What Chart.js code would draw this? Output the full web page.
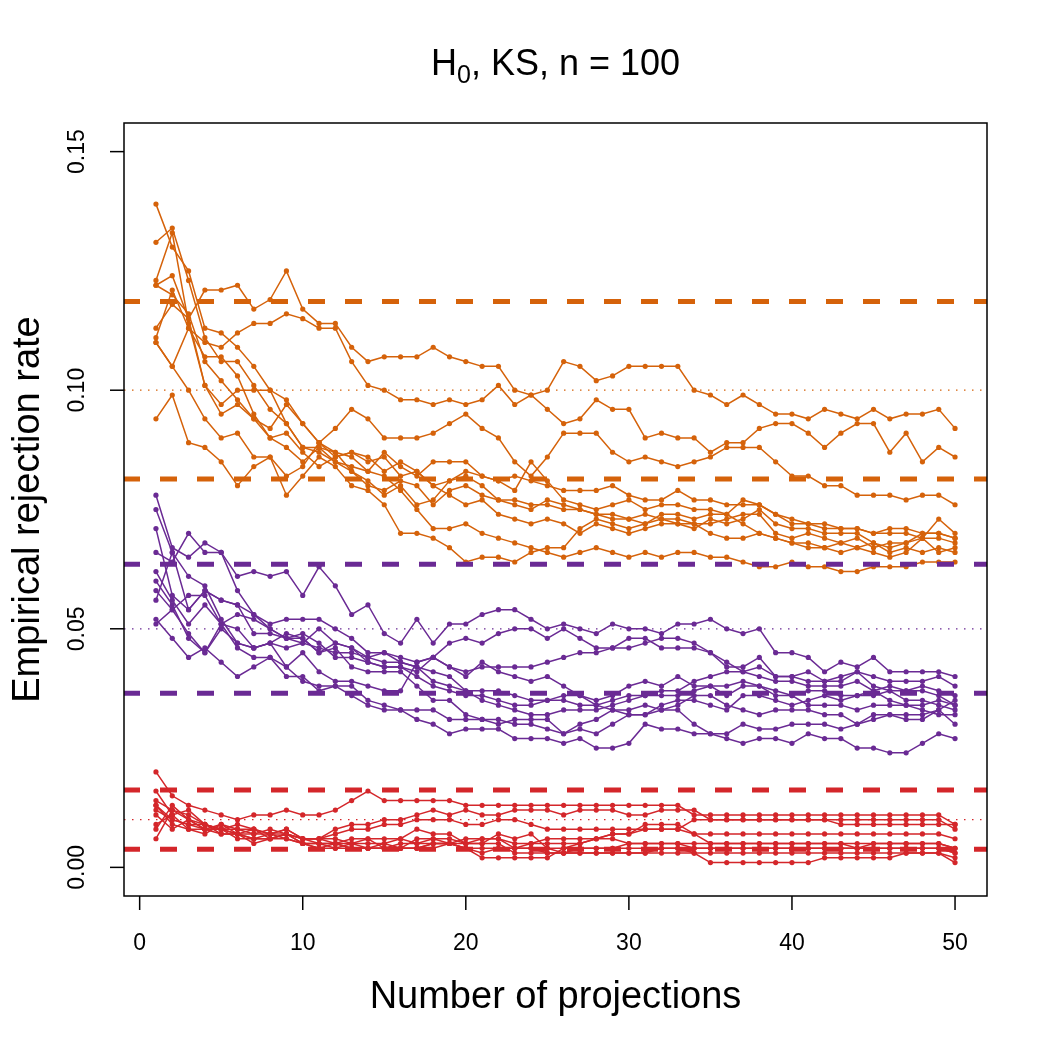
<!DOCTYPE html>
<html>
<head>
	<meta charset="UTF-8">
	<title>H0, KS, n = 100</title>
	<style>
		body { margin: 0; background: #fff; }
		canvas { display: block; }
	</style>
	<script src="https://cdn.jsdelivr.net/npm/chart.js@4/dist/chart.umd.min.js"></script>
</head>
<body>
	<canvas id="canvas" width="1050" height="1050" style="width:1050px;height:1050px;"></canvas>
	<script>
		// number of projections
		var projections = [1,2,3,4,5,6,7,8,9,10,11,12,13,14,15,16,17,18,19,20,21,22,23,24,25,26,27,28,29,30,31,32,33,34,35,36,37,38,39,40,41,42,43,44,45,46,47,48,49,50];

		var xTicks = [0, 10, 20, 30, 40, 50];
		var yTicks = [0, 0.05, 0.10, 0.15];
		var yTickLabels = ['0.00', '0.05', '0.10', '0.15'];

		// nominal levels (dotted) and their bands (dashed)
		var levels = [0.10, 0.05, 0.01];
		var bandsLow = [0.0814, 0.0365, 0.0038];
		var bandsHigh = [0.1186, 0.0635, 0.0162];

		// alpha = 0.10
		var orange = [
			[0.113,0.118,0.115,0.121,0.121,0.122,0.117,0.119,0.125,0.117, 0.114,0.114,0.109,0.106,0.107,0.107,0.107,0.109,0.107,0.106, 0.105,0.105,0.100,0.099,0.100,0.106,0.105,0.102,0.103,0.105, 0.105,0.105,0.105,0.100,0.099,0.097,0.099,0.097,0.095,0.095, 0.094,0.096,0.095,0.094,0.096,0.094,0.095,0.095,0.096,0.092],
			[0.110,0.105,0.113,0.110,0.109,0.112,0.114,0.114,0.116,0.115, 0.113,0.113,0.106,0.101,0.100,0.098,0.098,0.097,0.098,0.097, 0.098,0.101,0.097,0.099,0.096,0.093,0.094,0.098,0.096,0.096, 0.090,0.091,0.090,0.090,0.087,0.089,0.089,0.092,0.093,0.093, 0.091,0.088,0.091,0.093,0.093,0.087,0.091,0.085,0.088,0.086],
			[0.122,0.124,0.115,0.101,0.097,0.100,0.100,0.100,0.098,0.093, 0.089,0.092,0.096,0.094,0.090,0.090,0.090,0.091,0.093,0.095, 0.092,0.090,0.085,0.082,0.086,0.091,0.091,0.091,0.087,0.085, 0.086,0.085,0.084,0.085,0.086,0.088,0.088,0.088,0.085,0.082, 0.082,0.080,0.080,0.078,0.078,0.078,0.077,0.078,0.078,0.076],
			[0.139,0.130,0.125,0.113,0.112,0.109,0.105,0.100,0.093,0.088, 0.087,0.085,0.084,0.083,0.087,0.084,0.082,0.085,0.085,0.085, 0.082,0.081,0.082,0.081,0.080,0.079,0.079,0.079,0.080,0.078, 0.077,0.077,0.079,0.077,0.077,0.076,0.076,0.076,0.074,0.072, 0.072,0.071,0.071,0.071,0.070,0.070,0.070,0.069,0.069,0.068],
			[0.131,0.134,0.123,0.111,0.106,0.106,0.101,0.096,0.093,0.088, 0.088,0.085,0.083,0.080,0.079,0.081,0.080,0.076,0.079,0.080, 0.078,0.077,0.077,0.076,0.076,0.075,0.075,0.074,0.074,0.073, 0.074,0.073,0.072,0.072,0.072,0.073,0.074,0.074,0.070,0.069, 0.070,0.069,0.068,0.069,0.067,0.068,0.068,0.070,0.070,0.069],
			[0.123,0.133,0.114,0.101,0.095,0.097,0.094,0.092,0.097,0.093, 0.089,0.087,0.083,0.081,0.078,0.080,0.076,0.077,0.081,0.082, 0.080,0.077,0.076,0.075,0.077,0.076,0.075,0.074,0.073,0.073, 0.072,0.073,0.073,0.072,0.070,0.069,0.069,0.070,0.069,0.068, 0.067,0.067,0.066,0.067,0.066,0.065,0.066,0.069,0.073,0.070],
			[0.110,0.105,0.100,0.094,0.090,0.091,0.086,0.086,0.082,0.084, 0.089,0.086,0.087,0.085,0.086,0.082,0.083,0.080,0.078,0.076, 0.077,0.074,0.073,0.072,0.073,0.072,0.070,0.072,0.071,0.070, 0.071,0.072,0.072,0.071,0.073,0.072,0.073,0.075,0.072,0.071, 0.071,0.070,0.070,0.070,0.068,0.067,0.068,0.069,0.066,0.067],
			[0.094,0.099,0.089,0.088,0.085,0.080,0.084,0.086,0.078,0.082, 0.086,0.084,0.080,0.079,0.076,0.070,0.070,0.069,0.067,0.064, 0.065,0.065,0.064,0.066,0.067,0.067,0.071,0.073,0.072,0.071, 0.072,0.074,0.074,0.073,0.074,0.074,0.072,0.070,0.069,0.068, 0.068,0.067,0.068,0.067,0.068,0.066,0.067,0.066,0.067,0.066],
			[0.122,0.120,0.116,0.106,0.102,0.098,0.094,0.090,0.088,0.085, 0.088,0.087,0.086,0.083,0.082,0.079,0.075,0.071,0.071,0.072, 0.070,0.069,0.068,0.067,0.066,0.065,0.066,0.067,0.066,0.065, 0.066,0.065,0.066,0.066,0.065,0.065,0.064,0.063,0.063,0.064, 0.063,0.063,0.062,0.062,0.063,0.063,0.063,0.064,0.064,0.064],
			[0.111,0.121,0.113,0.107,0.107,0.103,0.095,0.090,0.091,0.087, 0.084,0.086,0.087,0.086,0.083,0.085,0.083,0.080,0.081,0.083, 0.082,0.081,0.079,0.085,0.081,0.077,0.076,0.075,0.076,0.077, 0.075,0.076,0.076,0.075,0.075,0.074,0.077,0.076,0.074,0.073, 0.072,0.072,0.071,0.071,0.070,0.071,0.071,0.070,0.070,0.069]
		];

		// alpha = 0.05
		var purple = [
			[0.066,0.064,0.070,0.066,0.066,0.061,0.062,0.061,0.062,0.057, 0.063,0.059,0.053,0.055,0.049,0.047,0.052,0.047,0.051,0.051, 0.053,0.054,0.054,0.052,0.050,0.051,0.050,0.049,0.051,0.050, 0.050,0.049,0.051,0.051,0.052,0.050,0.049,0.050,0.045,0.045, 0.044,0.041,0.043,0.042,0.044,0.041,0.041,0.041,0.041,0.040],
			[0.078,0.067,0.065,0.068,0.066,0.058,0.053,0.051,0.052,0.052, 0.052,0.050,0.048,0.045,0.045,0.044,0.043,0.044,0.047,0.048, 0.047,0.049,0.050,0.050,0.048,0.050,0.048,0.046,0.046,0.048, 0.048,0.046,0.046,0.046,0.045,0.042,0.042,0.044,0.040,0.040, 0.039,0.039,0.039,0.041,0.040,0.039,0.039,0.039,0.040,0.038],
			[0.071,0.057,0.054,0.058,0.056,0.055,0.053,0.050,0.048,0.048, 0.045,0.047,0.046,0.043,0.042,0.042,0.041,0.044,0.042,0.041, 0.042,0.042,0.042,0.042,0.043,0.044,0.045,0.045,0.046,0.046, 0.047,0.048,0.048,0.047,0.045,0.043,0.041,0.042,0.040,0.040, 0.041,0.039,0.040,0.041,0.038,0.037,0.037,0.038,0.037,0.036],
			[0.052,0.048,0.044,0.046,0.043,0.040,0.042,0.044,0.040,0.040, 0.037,0.038,0.036,0.034,0.033,0.033,0.031,0.030,0.028,0.029, 0.029,0.029,0.027,0.027,0.027,0.026,0.027,0.025,0.025,0.026, 0.030,0.029,0.029,0.028,0.028,0.027,0.026,0.027,0.027,0.026, 0.028,0.027,0.027,0.025,0.025,0.024,0.024,0.026,0.028,0.027],
			[0.051,0.054,0.049,0.045,0.050,0.047,0.046,0.047,0.042,0.039, 0.038,0.038,0.038,0.035,0.034,0.033,0.033,0.033,0.031,0.031, 0.031,0.030,0.031,0.031,0.031,0.028,0.029,0.028,0.030,0.032, 0.032,0.033,0.033,0.030,0.028,0.028,0.030,0.029,0.029,0.030, 0.030,0.030,0.029,0.030,0.031,0.032,0.031,0.031,0.033,0.030],
			[0.062,0.056,0.051,0.055,0.051,0.050,0.046,0.047,0.049,0.048, 0.045,0.046,0.042,0.041,0.041,0.041,0.038,0.035,0.035,0.032, 0.031,0.031,0.030,0.030,0.029,0.028,0.030,0.031,0.033,0.033, 0.034,0.033,0.034,0.036,0.036,0.034,0.033,0.032,0.033,0.033, 0.033,0.032,0.032,0.030,0.032,0.032,0.032,0.032,0.033,0.035],
			[0.060,0.055,0.048,0.045,0.051,0.053,0.052,0.050,0.048,0.047, 0.050,0.047,0.046,0.044,0.043,0.043,0.042,0.041,0.040,0.037, 0.037,0.037,0.036,0.035,0.035,0.036,0.036,0.034,0.033,0.032, 0.032,0.034,0.035,0.035,0.034,0.033,0.036,0.036,0.035,0.034, 0.035,0.036,0.035,0.036,0.037,0.035,0.034,0.034,0.035,0.034],
			[0.058,0.054,0.057,0.057,0.051,0.046,0.044,0.044,0.042,0.045, 0.041,0.039,0.039,0.038,0.037,0.037,0.043,0.044,0.042,0.040, 0.043,0.041,0.040,0.039,0.040,0.038,0.036,0.035,0.036,0.038, 0.039,0.038,0.040,0.038,0.038,0.036,0.038,0.038,0.037,0.036, 0.037,0.037,0.036,0.036,0.036,0.037,0.035,0.035,0.034,0.033],
			[0.056,0.066,0.054,0.058,0.056,0.055,0.049,0.049,0.048,0.049, 0.047,0.044,0.044,0.043,0.042,0.042,0.040,0.038,0.037,0.036, 0.036,0.035,0.034,0.034,0.035,0.035,0.034,0.034,0.035,0.036, 0.036,0.037,0.037,0.039,0.040,0.041,0.041,0.040,0.039,0.039, 0.038,0.038,0.038,0.039,0.037,0.038,0.037,0.037,0.036,0.034],
			[0.075,0.066,0.061,0.059,0.052,0.047,0.046,0.047,0.046,0.047, 0.046,0.045,0.045,0.044,0.045,0.043,0.042,0.039,0.038,0.037, 0.035,0.034,0.033,0.032,0.032,0.033,0.033,0.033,0.034,0.035, 0.036,0.036,0.036,0.037,0.038,0.038,0.039,0.038,0.036,0.036, 0.034,0.034,0.034,0.033,0.034,0.034,0.034,0.033,0.032,0.032]
		];

		// alpha = 0.01
		var red = [
			[0.020,0.015,0.013,0.012,0.011,0.010,0.011,0.011,0.012,0.011, 0.011,0.012,0.014,0.016,0.014,0.014,0.014,0.014,0.014,0.013, 0.013,0.013,0.013,0.013,0.013,0.013,0.013,0.013,0.013,0.013, 0.013,0.013,0.013,0.011,0.011,0.011,0.011,0.011,0.011,0.011, 0.011,0.011,0.011,0.011,0.011,0.011,0.011,0.011,0.011,0.009],
			[0.016,0.011,0.012,0.009,0.008,0.009,0.008,0.007,0.008,0.006, 0.006,0.008,0.009,0.009,0.010,0.010,0.011,0.012,0.011,0.012, 0.011,0.011,0.012,0.012,0.012,0.011,0.012,0.012,0.012,0.011, 0.011,0.012,0.012,0.012,0.010,0.010,0.010,0.010,0.010,0.010, 0.010,0.010,0.010,0.010,0.010,0.010,0.010,0.010,0.010,0.008],
			[0.014,0.012,0.010,0.008,0.008,0.007,0.007,0.008,0.007,0.006, 0.006,0.007,0.008,0.008,0.009,0.009,0.010,0.010,0.010,0.009, 0.009,0.010,0.010,0.009,0.008,0.008,0.008,0.008,0.008,0.008, 0.008,0.008,0.008,0.007,0.007,0.007,0.007,0.007,0.007,0.007, 0.007,0.007,0.007,0.007,0.007,0.007,0.007,0.007,0.007,0.006],
			[0.013,0.010,0.009,0.009,0.008,0.007,0.008,0.007,0.007,0.005, 0.005,0.005,0.006,0.006,0.006,0.006,0.008,0.007,0.007,0.005, 0.005,0.007,0.006,0.007,0.004,0.004,0.005,0.006,0.007,0.007, 0.009,0.009,0.009,0.007,0.005,0.005,0.005,0.005,0.005,0.005, 0.005,0.005,0.005,0.005,0.005,0.005,0.005,0.005,0.005,0.004],
			[0.012,0.010,0.009,0.008,0.008,0.006,0.006,0.006,0.007,0.006, 0.005,0.004,0.005,0.005,0.005,0.006,0.005,0.006,0.006,0.005, 0.006,0.006,0.005,0.005,0.006,0.006,0.006,0.006,0.007,0.007, 0.008,0.008,0.008,0.010,0.010,0.010,0.010,0.010,0.010,0.010, 0.010,0.010,0.009,0.009,0.009,0.009,0.009,0.009,0.009,0.009],
			[0.011,0.008,0.010,0.009,0.007,0.007,0.006,0.007,0.006,0.005, 0.004,0.004,0.004,0.004,0.004,0.005,0.005,0.005,0.005,0.004, 0.003,0.004,0.004,0.004,0.003,0.003,0.004,0.004,0.004,0.005, 0.005,0.005,0.005,0.004,0.004,0.004,0.004,0.004,0.004,0.004, 0.004,0.004,0.004,0.004,0.004,0.004,0.004,0.004,0.004,0.003],
			[0.009,0.011,0.008,0.008,0.007,0.007,0.006,0.006,0.006,0.005, 0.004,0.005,0.005,0.004,0.004,0.004,0.004,0.005,0.005,0.004, 0.002,0.002,0.002,0.002,0.002,0.004,0.004,0.004,0.004,0.004, 0.004,0.004,0.004,0.003,0.001,0.001,0.001,0.001,0.001,0.001, 0.001,0.002,0.002,0.002,0.002,0.002,0.003,0.003,0.003,0.001],
			[0.006,0.012,0.011,0.009,0.008,0.008,0.007,0.007,0.008,0.006, 0.006,0.005,0.004,0.004,0.005,0.004,0.004,0.004,0.005,0.006, 0.006,0.006,0.004,0.004,0.004,0.003,0.003,0.003,0.003,0.003, 0.003,0.003,0.003,0.003,0.003,0.003,0.003,0.003,0.003,0.003, 0.003,0.003,0.003,0.003,0.003,0.003,0.003,0.003,0.003,0.002],
			[0.008,0.013,0.010,0.008,0.009,0.007,0.005,0.006,0.007,0.006, 0.006,0.006,0.005,0.006,0.004,0.004,0.006,0.006,0.005,0.004, 0.004,0.004,0.004,0.005,0.005,0.005,0.005,0.006,0.006,0.005, 0.005,0.005,0.005,0.005,0.005,0.005,0.005,0.005,0.005,0.005, 0.005,0.005,0.005,0.004,0.005,0.005,0.005,0.005,0.005,0.004],
			[0.013,0.009,0.008,0.007,0.009,0.008,0.008,0.006,0.007,0.005, 0.005,0.005,0.004,0.004,0.004,0.004,0.004,0.005,0.005,0.005, 0.005,0.005,0.003,0.003,0.003,0.003,0.003,0.003,0.003,0.003, 0.003,0.004,0.004,0.004,0.004,0.004,0.004,0.004,0.004,0.004, 0.004,0.004,0.004,0.004,0.004,0.004,0.004,0.004,0.004,0.003]
		];

		var colors = ['#D5620A', '#6A2A94', '#D4262A'];
		var groups = [orange, purple, red];
		var fontName = '"Liberation Sans", Arial, Helvetica, sans-serif';

		var datasets = [];
		groups.forEach(function(group, g){
			group.forEach(function(series){
				datasets.push({
					data: series.map(function(v, i){ return { x: projections[i], y: v }; }),
					borderColor: colors[g],
					backgroundColor: colors[g],
					borderWidth: 1.5,
					pointRadius: 2.6,
					pointBorderWidth: 0,
					pointHoverRadius: 2.6,
					tension: 0
				});
			});
		});

		// reference lines, frame, axes and titles drawn in R style
		var frame = {
			id: 'frame',
			beforeDatasetsDraw: function(chart){
				var ctx = chart.ctx, a = chart.chartArea, ys = chart.scales.y;
				ctx.save();
				ctx.lineWidth = 1.2;
				ctx.setLineDash([1.5, 6.5]);
				levels.forEach(function(v, g){
					var py = ys.getPixelForValue(v);
					ctx.strokeStyle = colors[g];
					ctx.beginPath();
					ctx.moveTo(a.left, py);
					ctx.lineTo(a.right, py);
					ctx.stroke();
				});
				ctx.restore();
			},
			afterDatasetsDraw: function(chart){
				var ctx = chart.ctx, a = chart.chartArea, ys = chart.scales.y;
				ctx.save();
				ctx.beginPath();
				ctx.rect(a.left, a.top, a.right - a.left, a.bottom - a.top);
				ctx.clip();
				ctx.lineWidth = 5;
				ctx.setLineDash([17, 20]);
				[bandsLow, bandsHigh].forEach(function(band){
					band.forEach(function(v, g){
						var py = ys.getPixelForValue(v);
						ctx.strokeStyle = colors[g];
						ctx.beginPath();
						ctx.moveTo(a.left - 1, py);
						ctx.lineTo(a.right, py);
						ctx.stroke();
					});
				});
				ctx.restore();
			},
			afterDraw: function(chart){
				var ctx = chart.ctx, a = chart.chartArea, xs = chart.scales.x, ys = chart.scales.y;
				ctx.save();
				ctx.strokeStyle = '#000';
				ctx.fillStyle = '#000';
				ctx.lineWidth = 1.5;
				ctx.strokeRect(a.left, a.top, a.right - a.left, a.bottom - a.top);

				// x axis
				ctx.font = '23px ' + fontName;
				ctx.textAlign = 'center';
				ctx.textBaseline = 'middle';
				xTicks.forEach(function(v){
					var px = xs.getPixelForValue(v);
					ctx.beginPath();
					ctx.moveTo(px, a.bottom);
					ctx.lineTo(px, a.bottom + 14);
					ctx.stroke();
					ctx.fillText(String(v), px, a.bottom + 48);
				});

				// y axis, labels turned like R
				yTicks.forEach(function(v, i){
					var py = ys.getPixelForValue(v);
					ctx.beginPath();
					ctx.moveTo(a.left, py);
					ctx.lineTo(a.left - 14, py);
					ctx.stroke();
					ctx.save();
					ctx.translate(a.left - 46, py);
					ctx.rotate(-Math.PI / 2);
					ctx.fillText(yTickLabels[i], 0, 0);
					ctx.restore();
				});

				// axis titles
				ctx.font = '38px ' + fontName;
				ctx.fillText('Number of projections', (a.left + a.right) / 2, 998);
				ctx.save();
				ctx.translate(29, (a.top + a.bottom) / 2);
				ctx.rotate(-Math.PI / 2);
				ctx.fillText('Empirical rejection rate', 0, 0);
				ctx.restore();

				// title: H with subscript 0
				var big = '36px ' + fontName, small = '25px ' + fontName;
				var p1 = 'H', p2 = '0', p3 = ', KS, n = 100';
				ctx.font = big; var w1 = ctx.measureText(p1).width, w3 = ctx.measureText(p3).width;
				ctx.font = small; var w2 = ctx.measureText(p2).width;
				var x0 = (a.left + a.right) / 2 - (w1 + w2 + w3) / 2;
				ctx.textAlign = 'left';
				ctx.textBaseline = 'alphabetic';
				ctx.font = big; ctx.fillText(p1, x0, 75);
				ctx.font = small; ctx.fillText(p2, x0 + w1, 83);
				ctx.font = big; ctx.fillText(p3, x0 + w1 + w2, 75);
				ctx.restore();
			}
		};

		new Chart(document.getElementById('canvas').getContext('2d'), {
			type: 'line',
			data: { datasets: datasets },
			options: {
				responsive: false,
				animation: false,
				devicePixelRatio: 1,
				layout: { padding: { left: 124, right: 63, top: 123, bottom: 154 } },
				plugins: { legend: { display: false }, tooltip: { enabled: false }, title: { display: false } },
				scales: {
					x: { type: 'linear', display: false, min: -0.96, max: 51.96 },
					y: { type: 'linear', display: false, min: -0.006, max: 0.156 }
				}
			},
			plugins: [frame]
		});
	</script>
</body>
</html>
